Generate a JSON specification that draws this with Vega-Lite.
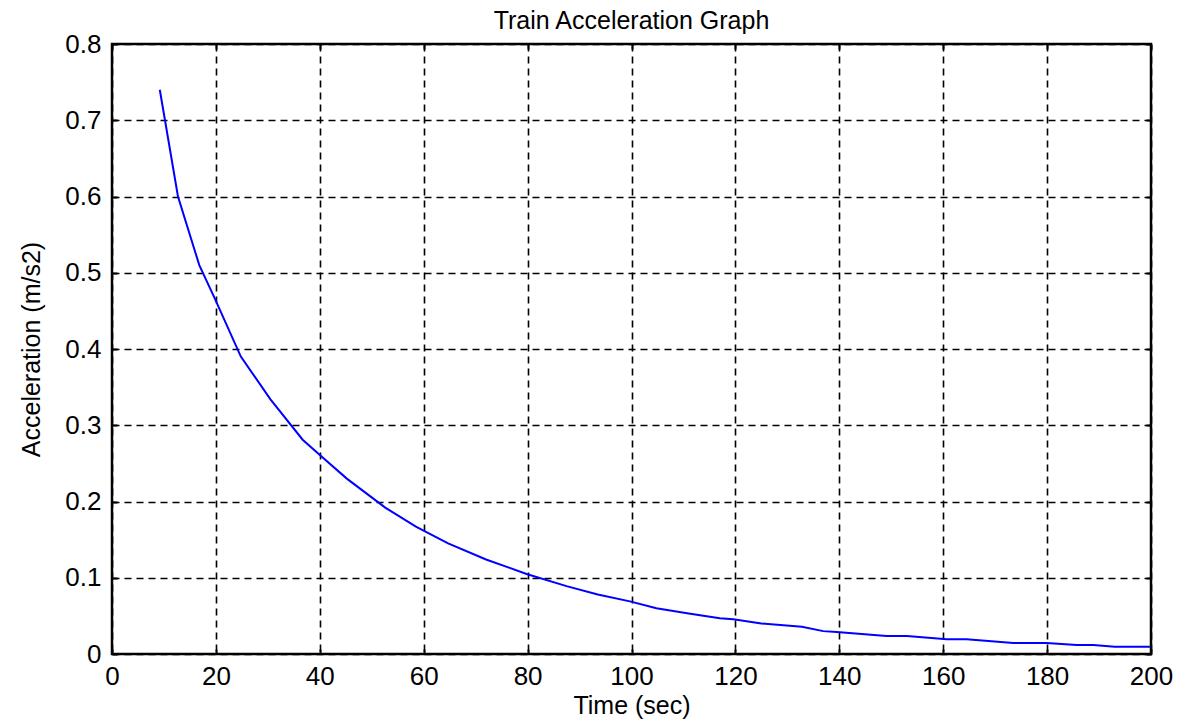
{
  "$schema": "https://vega.github.io/schema/vega-lite/v6.json",
  "width": 1039,
  "height": 610,
  "autosize": "none",
  "padding": {"left": 112, "top": 44, "right": 35, "bottom": 65},
  "background": "white",
  "title": {
    "text": "Train Acceleration Graph",
    "font": "Liberation Sans",
    "fontSize": 25,
    "fontWeight": "normal",
    "color": "black",
    "anchor": "middle",
    "offset": -3
  },
  "config": {
    "view": {"stroke": "black", "strokeWidth": 2.5},
    "axis": {
      "domain": false,
      "labelFont": "Liberation Sans",
      "labelFontSize": 26,
      "labelColor": "black",
      "titleFont": "Liberation Sans",
      "titleFontSize": 25,
      "titleFontWeight": "normal",
      "titleColor": "black",
      "tickColor": "black",
      "tickWidth": 2,
      "tickSize": -5,
      "gridColor": "black",
      "gridDash": [7, 5],
      "gridWidth": 1.6,
      "gridOpacity": 1
    }
  },
  "data": {
    "values": [
      {"t": 9.2, "a": 0.74},
      {"t": 12.7, "a": 0.6},
      {"t": 16.8, "a": 0.51},
      {"t": 19.8, "a": 0.466},
      {"t": 24.8, "a": 0.39},
      {"t": 30.5, "a": 0.334},
      {"t": 36.7, "a": 0.281},
      {"t": 40.5, "a": 0.258},
      {"t": 45.2, "a": 0.23},
      {"t": 52.6, "a": 0.192},
      {"t": 58.5, "a": 0.167},
      {"t": 64.7, "a": 0.145},
      {"t": 72.0, "a": 0.124},
      {"t": 79.8, "a": 0.105},
      {"t": 87.5, "a": 0.089},
      {"t": 93.5, "a": 0.078},
      {"t": 99.7, "a": 0.069},
      {"t": 104.8, "a": 0.06},
      {"t": 111.0, "a": 0.053},
      {"t": 117.0, "a": 0.047},
      {"t": 119.6, "a": 0.0455},
      {"t": 125.0, "a": 0.04},
      {"t": 132.8, "a": 0.0358},
      {"t": 136.9, "a": 0.03},
      {"t": 139.5, "a": 0.029},
      {"t": 149.1, "a": 0.0236},
      {"t": 153.0, "a": 0.0236},
      {"t": 160.7, "a": 0.0192},
      {"t": 164.5, "a": 0.0192},
      {"t": 173.5, "a": 0.0144},
      {"t": 179.9, "a": 0.0144},
      {"t": 185.7, "a": 0.0118},
      {"t": 188.9, "a": 0.0118},
      {"t": 193.0, "a": 0.0096},
      {"t": 199.8, "a": 0.0096}
    ]
  },
  "layer": [
    {
      "mark": {"type": "line", "color": "#0000ff", "strokeWidth": 2, "clip": true},
      "encoding": {
        "x": {
          "field": "t", "type": "quantitative",
          "scale": {"domain": [0, 200], "nice": false},
          "axis": {
            "orient": "bottom",
            "title": "Time (sec)",
            "values": [0, 20, 40, 60, 80, 100, 120, 140, 160, 180, 200],
            "grid": true,
            "labelPadding": 14,
            "titlePadding": 4,
            "labelFlush": false
          }
        },
        "y": {
          "field": "a", "type": "quantitative",
          "scale": {"domain": [0, 0.8], "nice": false},
          "axis": {
            "orient": "left",
            "title": "Acceleration (m/s2)",
            "values": [0, 0.1, 0.2, 0.3, 0.4, 0.5, 0.6, 0.7, 0.8],
            "labelExpr": "datum.value == 0 ? '0' : format(datum.value, '.1f')",
            "grid": true,
            "labelPadding": 16,
            "titlePadding": 20,
            "labelFlush": false
          }
        }
      }
    },
    {
      "mark": {"type": "line", "opacity": 0},
      "encoding": {
        "x": {
          "field": "t", "type": "quantitative",
          "scale": {"domain": [0, 200], "nice": false},
          "axis": {
            "orient": "top",
            "title": null,
            "labels": false,
            "grid": false,
            "values": [0, 20, 40, 60, 80, 100, 120, 140, 160, 180, 200]
          }
        },
        "y": {
          "field": "a", "type": "quantitative",
          "scale": {"domain": [0, 0.8], "nice": false},
          "axis": {
            "orient": "right",
            "title": null,
            "labels": false,
            "grid": false,
            "values": [0, 0.1, 0.2, 0.3, 0.4, 0.5, 0.6, 0.7, 0.8]
          }
        }
      }
    }
  ],
  "resolve": {"axis": {"x": "independent", "y": "independent"}}
}
